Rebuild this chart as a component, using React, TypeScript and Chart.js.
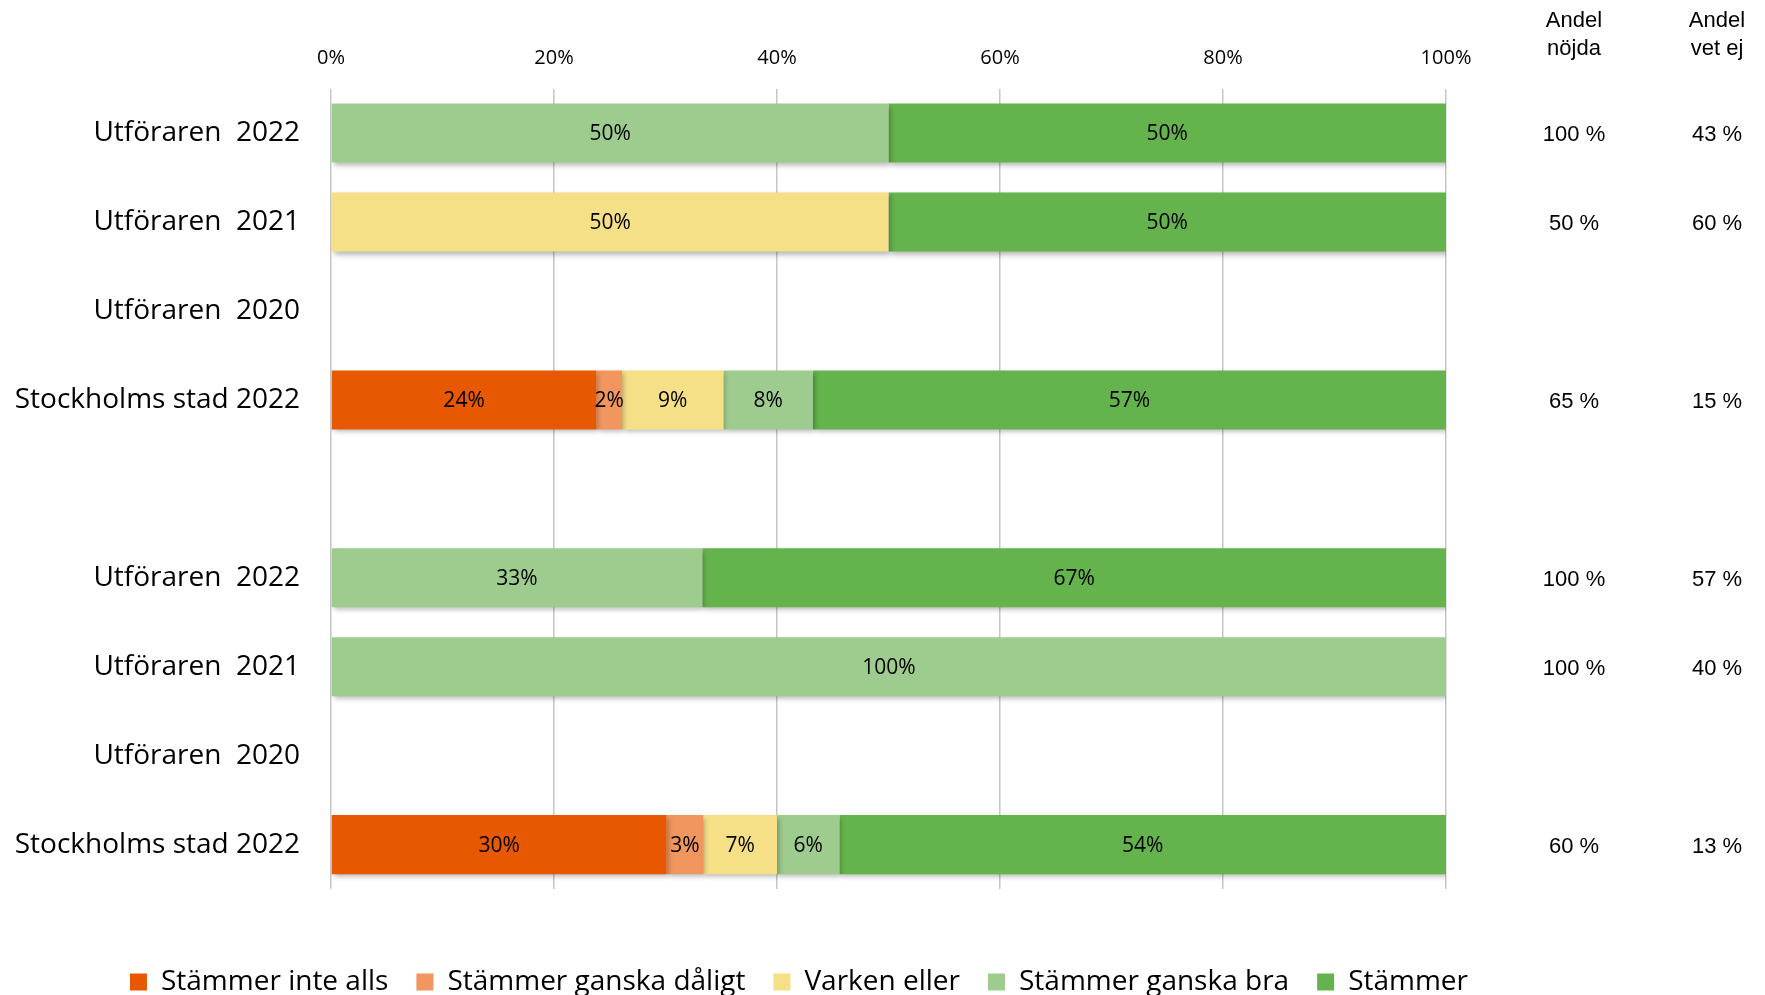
import React, { useEffect, useRef } from "react";
import { Chart, registerables } from "chart.js";

Chart.register(...registerables);

const categories = [
  "Utföraren  2022",
  "Utföraren  2021",
  "Utföraren  2020",
  "Stockholms stad 2022",
  "",
  "Utföraren  2022",
  "Utföraren  2021",
  "Utföraren  2020",
  "Stockholms stad 2022",
];

const seriesNames = [
  "Stämmer inte alls",
  "Stämmer ganska dåligt",
  "Varken eller",
  "Stämmer ganska bra",
  "Stämmer",
];

const stammerInteAlls = [null, null, null, 23.8, null, null, null, null, 30.1];
const stammerGanskaDaligt = [null, null, null, 2.3, null, null, null, null, 3.3];
const varkenEller = [null, 50, null, 9.1, null, null, null, null, 6.6];
const stammerGanskaBra = [50, null, null, 8.0, null, 33.3, 100, null, 5.6];
const stammerHelt = [50, 50, null, 56.8, null, 66.7, null, null, 54.4];

const seriesColors = ["#E85800", "#F1965F", "#F5E088", "#9ECC8F", "#65B34C"];

const xTicks = [0, 20, 40, 60, 80, 100];

const andelNojda = ["100 %", "50 %", "", "65 %", "", "100 %", "100 %", "", "60 %"];
const andelVetEj = ["43 %", "60 %", "", "15 %", "", "57 %", "40 %", "", "13 %"];
const headerNojda = ["Andel", "nöjda"];
const headerVetEj = ["Andel", "vet ej"];

const LABEL_FONT = '"Open Sans", "DejaVu Sans", sans-serif';
const ARIAL = '"Liberation Sans", Arial, sans-serif';

const shadowPlugin = {
  id: "barShadow",
  beforeDatasetsDraw(chart: any) {
    const ctx = chart.ctx;
    ctx.save();
    ctx.shadowColor = "rgba(0,0,0,0.28)";
    ctx.shadowBlur = 5;
    ctx.shadowOffsetX = 2;
    ctx.shadowOffsetY = 3;
  },
  afterDatasetsDraw(chart: any) {
    chart.ctx.restore();
  },
};

const valueLabelPlugin = {
  id: "valueLabels",
  afterDraw(chart: any) {
    const ctx = chart.ctx;
    ctx.save();
    ctx.font = `21px ${LABEL_FONT}`;
    ctx.fillStyle = "#000";
    ctx.textAlign = "center";
    ctx.textBaseline = "middle";
    chart.data.datasets.forEach((ds: any, i: number) => {
      const meta = chart.getDatasetMeta(i);
      meta.data.forEach((bar: any, j: number) => {
        const v = ds.data[j];
        if (v === null || v === undefined || v === 0) return;
        const p = bar.getProps(["x", "base", "y"], true);
        ctx.fillText(Math.round(v) + "%", (p.x + p.base) / 2, p.y + 1);
      });
    });
    ctx.restore();
  },
};

const sideColumnsPlugin = {
  id: "sideColumns",
  afterDraw(chart: any) {
    const ctx = chart.ctx;
    const yScale = chart.scales.y;
    const colX = [1574, 1717];
    ctx.save();
    ctx.font = `22px ${ARIAL}`;
    ctx.fillStyle = "#000";
    ctx.textAlign = "center";
    ctx.textBaseline = "alphabetic";
    [headerNojda, headerVetEj].forEach((lines, c) => {
      lines.forEach((t, k) => ctx.fillText(t, colX[c], 27 + k * 28));
    });
    ctx.textBaseline = "middle";
    categories.forEach((_, i) => {
      const y = yScale.getPixelForValue(i) + 2;
      ctx.fillText(andelNojda[i], colX[0], y);
      ctx.fillText(andelVetEj[i], colX[1], y);
    });
    ctx.restore();
  },
};

export default function App() {
  const canvasRef = useRef<HTMLCanvasElement | null>(null);

  useEffect(() => {
    if (!canvasRef.current) return;
    const seriesData = [stammerInteAlls, stammerGanskaDaligt, varkenEller, stammerGanskaBra, stammerHelt];
    const chart = new Chart(canvasRef.current, {
      type: "bar",
      data: {
        labels: categories,
        datasets: seriesNames.map((name, i) => ({
          label: name,
          data: seriesData[i] as any,
          backgroundColor: seriesColors[i],
          borderWidth: 0,
          categoryPercentage: 1,
          barPercentage: 0.664,
          xAxisID: "x",
          yAxisID: "y",
        })),
      },
      options: {
        indexAxis: "y",
        responsive: false,
        animation: false,
        devicePixelRatio: 1,
        layout: { padding: { left: 0, right: 167, top: 0, bottom: 0 } },
        plugins: {
          legend: {
            position: "bottom",
            labels: {
              font: { family: LABEL_FONT, size: 28 },
              color: "#000",
              boxWidth: 17,
              boxHeight: 17,
              padding: 28,
            },
          },
          tooltip: { enabled: false },
        },
        scales: {
          x: {
            type: "linear",
            position: "top",
            stacked: true,
            min: 0,
            max: 100,
            afterBuildTicks: (s: any) => {
              s.ticks = xTicks.map((v) => ({ value: v }));
            },
            ticks: {
              autoSkip: false,
              maxRotation: 0,
              callback: (v: any) => v + "%",
              font: { family: LABEL_FONT, size: 20 },
              color: "#000",
              padding: 18,
            },
            grid: { color: "#C6C6C6", lineWidth: 1.5, drawTicks: false },
            border: { display: false },
            afterFit: (s: any) => {
              s.height = 88.6;
            },
          },
          x2: {
            type: "linear",
            position: "bottom",
            display: true,
            ticks: { display: false },
            grid: { display: false, drawTicks: false },
            border: { display: false },
            afterFit: (s: any) => {
              s.height = 50.9;
            },
          },
          y: {
            type: "category",
            stacked: true,
            ticks: {
              autoSkip: false,
              font: { family: LABEL_FONT, size: 28 },
              color: "#000",
              padding: 31,
            },
            grid: { display: false, drawTicks: false },
            border: { display: false },
            afterFit: (s: any) => {
              s.width = 331;
            },
          },
          y2: {
            type: "linear",
            position: "right",
            display: true,
            ticks: { display: false },
            grid: { display: false, drawTicks: false },
            border: { display: false },
            afterFit: (s: any) => {
              s.width = 152;
            },
          },
        },
      } as any,
      plugins: [shadowPlugin, valueLabelPlugin, sideColumnsPlugin],
    });
    return () => chart.destroy();
  }, []);

  return (
    <div
      style={{
        position: "absolute",
        left: 0,
        top: 0,
        width: 1765,
        height: 995,
        overflow: "hidden",
        background: "#fff",
      }}
    >
      <canvas ref={canvasRef} width={1765} height={1006} style={{ display: "block" }} />
    </div>
  );
}
